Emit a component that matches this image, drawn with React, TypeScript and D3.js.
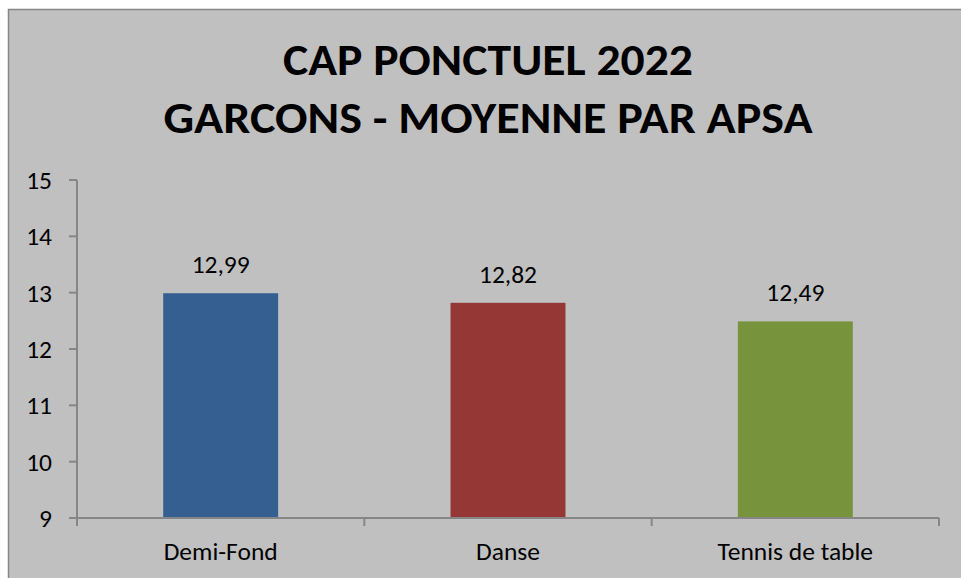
import React from "react";
import * as d3 from "d3";

const categories = ["Demi-Fond", "Danse", "Tennis de table"];
const values = [12.99, 12.82, 12.49];
const valueLabels = ["12,99", "12,82", "12,49"];
const barColors = ["#365f91", "#953735", "#77933c"];
const yTicks = [9, 10, 11, 12, 13, 14, 15];
const titleLines = ["CAP PONCTUEL 2022", "GARCONS - MOYENNE PAR APSA"];

const W = 961;
const H = 578;
const FONT = "Calibri, Carlito, Lato, 'Open Sans', sans-serif";
const LABEL_SIZE = 25.5;

export default function App() {
  const left = 77, right = 939, top = 180, bottom = 518;
  const y = d3.scaleLinear().domain([9, 15]).range([bottom, top]);
  const x = d3
    .scaleBand<string>()
    .domain(categories)
    .range([left, right])
    .paddingInner(0.6)
    .paddingOuter(0.3);
  const step = x.step();
  const axisColor = "#868686";

  return (
    <div style={{ position: "absolute", left: 0, top: 0 }}>
      <svg width={W} height={H} style={{ display: "block" }}>
        <rect x={0} y={0} width={W} height={H} fill="#ffffff" />
        <rect x={8.5} y={9.5} width={W + 10} height={H + 10} fill="#c0c0c0" stroke={axisColor} strokeWidth={1.5} />
        <g fontFamily={FONT} fontWeight="bold" fontSize={44} fill="#000" textAnchor="middle">
          <text x={488} y={75} textLength={410} lengthAdjust="spacingAndGlyphs">{titleLines[0]}</text>
          <text x={488} y={133} textLength={649} lengthAdjust="spacingAndGlyphs">{titleLines[1]}</text>
        </g>
        {/* bars */}
        {categories.map((c, i) => (
          <rect
            key={c}
            x={x(c)}
            y={y(values[i])}
            width={x.bandwidth()}
            height={bottom - y(values[i])}
            fill={barColors[i]}
          />
        ))}
        {/* y axis */}
        <line x1={left} x2={left} y1={top} y2={bottom + 8} stroke={axisColor} strokeWidth={2} />
        {yTicks.map((t) => (
          <g key={t}>
            <line x1={left - 8} x2={left} y1={y(t)} y2={y(t)} stroke={axisColor} strokeWidth={2} />
            <text x={52} y={y(t)} dy="0.35em" textAnchor="end" fontFamily={FONT} fontSize={LABEL_SIZE} fill="#000">
              {t}
            </text>
          </g>
        ))}
        {/* x axis */}
        <line x1={left - 8} x2={right} y1={bottom} y2={bottom} stroke={axisColor} strokeWidth={2} />
        {d3.range(categories.length + 1).map((i) => (
          <line key={i} x1={left + i * step} x2={left + i * step} y1={bottom} y2={bottom + 8} stroke={axisColor} strokeWidth={2} />
        ))}
        {categories.map((c) => (
          <text key={c} x={(x(c) as number) + x.bandwidth() / 2} y={560} textAnchor="middle" fontFamily={FONT} fontSize={LABEL_SIZE} fill="#000">
            {c}
          </text>
        ))}
        {categories.map((c, i) => (
          <text key={c} x={(x(c) as number) + x.bandwidth() / 2} y={y(values[i]) - 20} textAnchor="middle" fontFamily={FONT} fontSize={LABEL_SIZE} fill="#000">
            {valueLabels[i]}
          </text>
        ))}
      </svg>
    </div>
  );
}
